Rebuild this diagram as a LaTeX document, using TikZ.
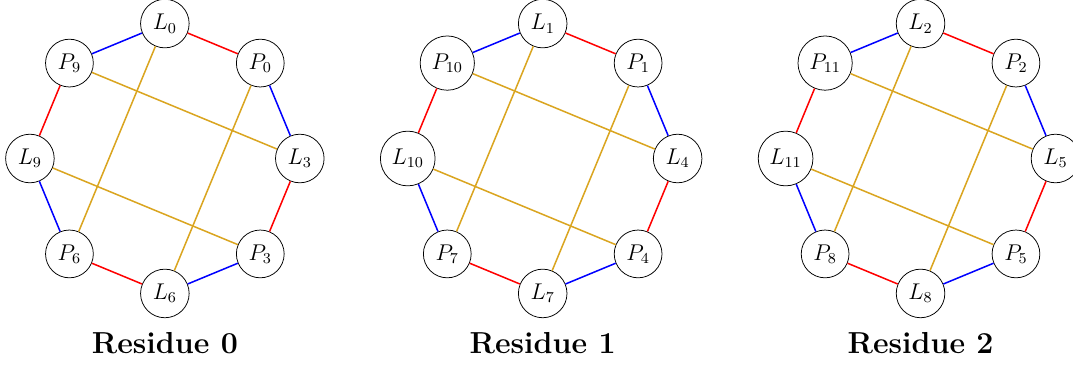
\documentclass[tikz,border=0pt]{standalone}
\definecolor{goldline}{RGB}{218,165,32}
\tikzset{
  vtx/.style={circle,draw,black,font=\large},
  redE/.style={red,thick},
  blueE/.style={blue,thick},
  goldE/.style={goldline,thick},
  reslabel/.style={font=\fontsize{16}{19}\selectfont\bfseries,anchor=base}
}
\begin{document}
\begin{tikzpicture}
\useasboundingbox (-86.9pt,-109.95pt) rectangle (478.7pt,83.55pt);
\foreach \r in {0,1,2} {
  \pgfmathtruncatemacro{\a}{\r+3}
  \pgfmathtruncatemacro{\b}{\r+6}
  \pgfmathtruncatemacro{\c}{\r+9}
  \begin{scope}[xshift=\r*7cm]
    \node[vtx] (L\r) at (90:2.5cm)   {$L_{\r}$};
    \node[vtx] (P\r) at (45:2.5cm)   {$P_{\r}$};
    \node[vtx] (L\a) at (0:2.5cm)    {$L_{\a}$};
    \node[vtx] (P\a) at (-45:2.5cm)  {$P_{\a}$};
    \node[vtx] (L\b) at (-90:2.5cm)  {$L_{\b}$};
    \node[vtx] (P\b) at (-135:2.5cm) {$P_{\b}$};
    \node[vtx] (L\c) at (180:2.5cm)  {$L_{\c}$};
    \node[vtx] (P\c) at (135:2.5cm)  {$P_{\c}$};
    \draw[redE]  (L\r) -- (P\r);
    \draw[blueE] (P\r) -- (L\a);
    \draw[redE]  (L\a) -- (P\a);
    \draw[blueE] (P\a) -- (L\b);
    \draw[redE]  (L\b) -- (P\b);
    \draw[blueE] (P\b) -- (L\c);
    \draw[redE]  (L\c) -- (P\c);
    \draw[blueE] (P\c) -- (L\r);
    \draw[goldE] (L\r) -- (P\b);
    \draw[goldE] (P\r) -- (L\b);
    \draw[goldE] (P\c) -- (L\a);
    \draw[goldE] (L\c) -- (P\a);
    \node[reslabel] (res\r) at (0,-102.7pt) {Residue \r};
  \end{scope}
}
\end{tikzpicture}
\end{document}
